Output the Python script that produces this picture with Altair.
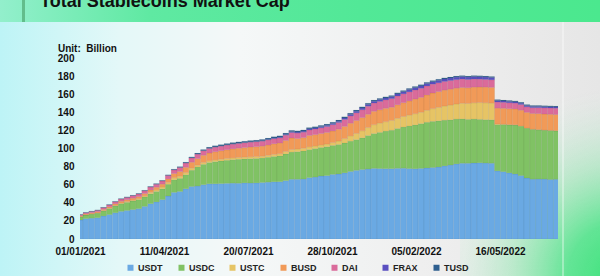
import altair as alt
import pandas as pd

# ---------------- data (billions USD, weekly) ----------------
start_date = "2021-01-01"
coins = ["USDT", "USDC", "USTC", "BUSD", "DAI", "FRAX", "TUSD"]
coin_colors = ["#6aa9e3", "#80c264", "#e6c465", "#f19a58", "#da6b9b", "#5a4fc0", "#2f5f8f"]
tick_dates = ["01/01/2021", "11/04/2021", "20/07/2021", "28/10/2021", "05/02/2022", "16/05/2022"]
y_ticks = [0, 20, 40, 60, 80, 100, 120, 140, 160, 180, 200]

usdt = [21.0, 22.5, 23.0, 23.5, 25.5, 27.0, 29.0, 30.5, 31.5, 32.5,
        33.5, 36.0, 39.0, 41.0, 43.5, 47.5, 51.5, 52.5, 55.5, 58.0,
        58.5, 60.0, 61.0, 61.0, 61.2, 61.5, 61.7, 61.6, 62.0, 61.8,
        62.0, 62.4, 62.8, 63.2, 63.3, 64.5, 66.0, 66.0, 66.2, 67.8,
        68.4, 69.6, 70.0, 71.4, 71.9, 73.1, 74.6, 75.8, 76.8, 77.3,
        78.0, 77.8, 77.7, 77.7, 78.1, 78.2, 77.8, 77.6, 78.0, 78.5,
        79.0, 79.6, 80.8, 81.7, 83.0, 83.7, 83.7, 84.0, 84.2, 83.9,
        83.7, 75.3, 74.4, 73.1, 71.9, 70.1, 67.4, 66.1, 66.2, 66.2,
        65.8, 66.0]
usdc = [3.5, 4.0, 4.5, 5.0, 5.5, 6.5, 7.5, 8.5, 9.0, 9.5,
        10.0, 10.5, 11.0, 11.5, 12.0, 13.0, 14.0, 14.5, 15.5, 18.0,
        21.0, 22.5, 23.5, 24.5, 25.0, 25.5, 26.0, 26.5, 26.5, 27.0,
        27.0, 27.0, 27.5, 28.0, 28.5, 29.5, 30.0, 30.5, 31.0, 31.0,
        31.5, 31.5, 32.0, 32.0, 32.5, 33.0, 33.5, 34.0, 35.0, 37.0,
        38.5, 40.0, 41.5, 42.5, 44.0, 45.5, 47.0, 48.5, 49.5, 50.5,
        51.0, 51.0, 50.5, 50.0, 49.5, 49.0, 48.5, 48.5, 48.0, 48.0,
        48.0, 51.0, 52.0, 53.0, 54.0, 54.5, 55.0, 55.0, 54.5, 54.0,
        54.0, 53.5]
ustc = [0.2, 0.2, 0.3, 0.3, 0.4, 0.5, 0.6, 0.7, 0.8, 0.9,
        1.0, 1.2, 1.5, 1.8, 2.0, 2.1, 2.2, 2.3, 2.3, 2.2,
        2.0, 2.0, 1.9, 1.9, 1.9, 1.9, 1.9, 1.9, 1.9, 2.0,
        2.0, 2.0, 2.1, 2.2, 2.4, 2.6, 2.8, 2.9, 3.0, 3.0,
        2.9, 2.8, 2.9, 3.1, 3.8, 4.8, 5.8, 6.8, 7.8, 8.8,
        9.8, 10.2, 10.4, 10.8, 11.2, 11.6, 12.0, 12.3, 12.5, 13.2,
        14.0, 14.8, 15.6, 16.3, 16.7, 17.2, 17.5, 18.0, 18.5, 18.6,
        18.4, 0.8, 0.4, 0.3, 0.3, 0.3, 0.2, 0.2, 0.2, 0.2,
        0.2, 0.2]
busd = [1.0, 1.1, 1.2, 1.3, 1.4, 1.6, 1.8, 2.0, 2.1, 2.2,
        2.3, 2.5, 2.7, 2.9, 3.1, 3.8, 4.6, 5.3, 5.9, 6.6,
        7.3, 8.0, 8.6, 9.0, 9.4, 9.7, 10.0, 10.3, 10.6, 10.8,
        11.0, 11.2, 11.5, 11.8, 11.8, 12.2, 12.8, 11.6, 11.8, 12.6,
        12.5, 12.6, 12.8, 12.9, 13.2, 13.5, 14.0, 14.3, 14.5, 14.7,
        14.8, 14.8, 14.8, 14.6, 15.0, 15.3, 15.8, 16.2, 16.5, 17.0,
        17.3, 17.5, 17.6, 17.6, 17.5, 17.5, 17.4, 17.3, 17.2, 17.3,
        17.4, 17.5, 17.6, 17.6, 17.5, 17.4, 17.3, 17.4, 17.6, 17.7,
        17.8, 17.8]
dai = [1.0, 1.2, 1.4, 1.6, 1.8, 2.0, 2.2, 2.4, 2.6, 2.8,
       3.0, 3.1, 3.2, 3.3, 3.5, 3.8, 4.1, 4.4, 4.7, 4.8,
       4.9, 5.0, 5.0, 5.1, 5.1, 5.2, 5.2, 5.3, 5.3, 5.4,
       5.4, 5.5, 5.6, 5.7, 5.8, 5.9, 6.0, 6.0, 6.0, 6.1,
       6.2, 6.4, 6.6, 6.9, 7.3, 7.7, 8.1, 8.5, 8.7, 8.9,
       9.1, 9.2, 9.3, 9.5, 9.7, 9.8, 10.0, 10.0, 10.0, 9.9,
       9.8, 9.7, 9.6, 9.5, 9.4, 9.3, 9.1, 8.9, 8.7, 8.5,
       8.4, 6.7, 6.6, 6.5, 6.4, 6.3, 6.2, 6.4, 6.6, 6.8,
       6.9, 7.0]
frax = [0.1, 0.1, 0.1, 0.1, 0.1, 0.1, 0.1, 0.1, 0.1, 0.1,
        0.15, 0.15, 0.15, 0.2, 0.2, 0.2, 0.2, 0.2, 0.2, 0.2,
        0.2, 0.2, 0.25, 0.25, 0.25, 0.25, 0.3, 0.3, 0.3, 0.35,
        0.4, 0.5, 0.6, 0.7, 0.8, 0.9, 1.0, 1.1, 1.15, 1.2,
        1.25, 1.3, 1.35, 1.4, 1.5, 1.6, 1.7, 1.8, 1.9, 2.0,
        2.0, 2.05, 2.1, 2.2, 2.3, 2.4, 2.5, 2.6, 2.7, 2.7,
        2.7, 2.7, 2.7, 2.75, 2.75, 2.7, 2.7, 2.7, 2.65, 2.6,
        2.5, 1.6, 1.5, 1.5, 1.45, 1.45, 1.4, 1.4, 1.4, 1.35,
        1.35, 1.35]
tusd = [0.3, 0.3, 0.3, 0.3, 0.35, 0.35, 0.35, 0.35, 0.4, 0.4,
        0.4, 0.4, 0.45, 0.45, 0.45, 0.5, 0.6, 0.7, 0.8, 0.9,
        1.0, 1.1, 1.2, 1.3, 1.4, 1.4, 1.4, 1.4, 1.4, 1.4,
        1.4, 1.4, 1.4, 1.4, 1.4, 1.4, 1.4, 1.4, 1.35, 1.35,
        1.3, 1.3, 1.3, 1.3, 1.3, 1.3, 1.3, 1.3, 1.3, 1.3,
        1.3, 1.25, 1.25, 1.2, 1.2, 1.2, 1.25, 1.3, 1.3, 1.25,
        1.2, 1.2, 1.2, 1.15, 1.15, 1.1, 1.1, 1.1, 1.1, 1.1,
        1.1, 1.1, 1.05, 1.05, 1.0, 1.0, 1.0, 1.0, 1.0, 1.0,
        1.0, 1.0]

series = [usdt, usdc, ustc, busd, dai, frax, tusd]
n = len(usdt)
for s in series:
    if len(s) != n:
        raise ValueError("series length mismatch")

dates = pd.date_range(start_date, periods=n, freq="7D")
half = pd.Timedelta(hours=84)
rows = []
base = [0.0] * n
for k, (coin, vals) in enumerate(zip(coins, series)):
    for i, (d, v) in enumerate(zip(dates, vals)):
        rows.append({"start": d - half, "end": d + half, "coin": coin,
                     "order": k, "value": v, "y0": base[i], "y1": base[i] + v})
        base[i] += v
df = pd.DataFrame(rows)

tick_values = []
for t in tick_dates:
    dd, mm, yy = (int(p) for p in t.split("/"))
    tick_values.append(alt.DateTime(year=yy, month=mm, date=dd))

FONT = "Liberation Sans"
one = alt.Data(values=[{"k": 0}])

# ---------------- decoration ----------------
panel = alt.Chart(one).mark_rect(
    color=alt.LinearGradient(
        gradient="linear", x1=0, y1=0, x2=1, y2=0,
        stops=[alt.GradientStop(color="#bdf4f6", offset=0),
               alt.GradientStop(color="#e4f8f8", offset=0.2),
               alt.GradientStop(color="#f5f8f8", offset=0.4),
               alt.GradientStop(color="#efefef", offset=0.7),
               alt.GradientStop(color="#e6e6e6", offset=1)])
).encode(x=alt.value(-80), x2=alt.value(520), y=alt.value(-37), y2=alt.value(220))

glow = alt.Chart(one).mark_rect(
    color=alt.RadialGradient(
        gradient="radial", x1=1, y1=1, r1=0, x2=1, y2=1, r2=1,
        stops=[alt.GradientStop(color="rgba(55,226,118,1)", offset=0),
               alt.GradientStop(color="rgba(75,228,135,0.85)", offset=0.3),
               alt.GradientStop(color="rgba(120,232,160,0.4)", offset=0.6),
               alt.GradientStop(color="rgba(200,240,215,0)", offset=1)])
).encode(x=alt.value(380), x2=alt.value(520), y=alt.value(30), y2=alt.value(220))

divider = alt.Chart(one).mark_rule(color="#ffffff", opacity=0.7, strokeWidth=1).encode(
    x=alt.value(483), y=alt.value(-37), y2=alt.value(220))

band = alt.Chart(one).mark_rect(
    color=alt.LinearGradient(
        gradient="linear", x1=0, y1=0, x2=1, y2=0,
        stops=[alt.GradientStop(color="#93efcc", offset=0),
               alt.GradientStop(color="#5fe9a2", offset=0.25),
               alt.GradientStop(color="#52e897", offset=0.6),
               alt.GradientStop(color="#4be88e", offset=1)])
).encode(x=alt.value(-80), x2=alt.value(520), y=alt.value(-60), y2=alt.value(-36))

accent = alt.Chart(one).mark_rect(color="#62bd8c").encode(
    x=alt.value(-58), x2=alt.value(-55), y=alt.value(-60), y2=alt.value(-36))

title = alt.Chart(one).mark_text(
    text="Total Stablecoins Market Cap", font=FONT, fontSize=18, fontWeight="bold",
    color="#111111", align="left", baseline="alphabetic"
).encode(x=alt.value(-40), y=alt.value(-51))

unit = alt.Chart(one).mark_text(
    text="Unit:\u00a0\u00a0Billion", font=FONT, fontSize=10, fontWeight="bold",
    color="#111111", align="left", baseline="alphabetic"
).encode(x=alt.value(-22), y=alt.value(-6))

# ---------------- bars ----------------
bars = alt.Chart(df).mark_bar(clip=True, stroke="#000000", strokeOpacity=0.12, strokeWidth=0.4).encode(
    x=alt.X("start:T",
            scale=alt.Scale(domain=[alt.DateTime(year=2021, month=1, date=1),
                                    alt.DateTime(year=2022, month=7, date=24)]),
            axis=alt.Axis(values=tick_values, format="%d/%m/%Y", title=None,
                          labelFont=FONT, labelFontSize=10, labelFontWeight="bold",
                          labelColor="#111111", domain=False, ticks=False, tickSize=0,
                          grid=False, labelPadding=7, labelFlush=False,
                          labelOverlap=False, zindex=1)),
    x2="end:T",
    y=alt.Y("y0:Q",
            scale=alt.Scale(domain=[0, 200], nice=False),
            axis=alt.Axis(values=y_ticks, title=None, labelFont=FONT, labelFontSize=10,
                          labelFontWeight="bold", labelColor="#111111", domain=False,
                          ticks=False, tickSize=0, grid=False, labelPadding=6, zindex=1)),
    y2="y1:Q",
    color=alt.Color("coin:N", sort=coins,
                    scale=alt.Scale(domain=coins, range=coin_colors),
                    legend=alt.Legend(orient="none", legendX=46, legendY=205,
                                      direction="horizontal", columns=7, title=None,
                                      symbolType="square", symbolSize=36,
                                      symbolStrokeWidth=0, labelFont=FONT,
                                      labelFontSize=9, labelFontWeight="bold",
                                      labelColor="#222222", labelOffset=3,
                                      columnPadding=13, gridAlign="all", padding=0)),
    tooltip=["coin:N", "value:Q"],
)

chart = alt.layer(panel, glow, divider, band, accent, title, unit, bars).properties(
    width=478, height=181,
    autosize=alt.AutoSizeParams(type="none"),
    padding={"left": 80, "top": 58, "right": 42, "bottom": 37},
    background="#e9f6f2",
).configure_view(stroke=None, fill=None)

chart.save("out.html", embed_options={"renderer": "svg", "actions": False})
